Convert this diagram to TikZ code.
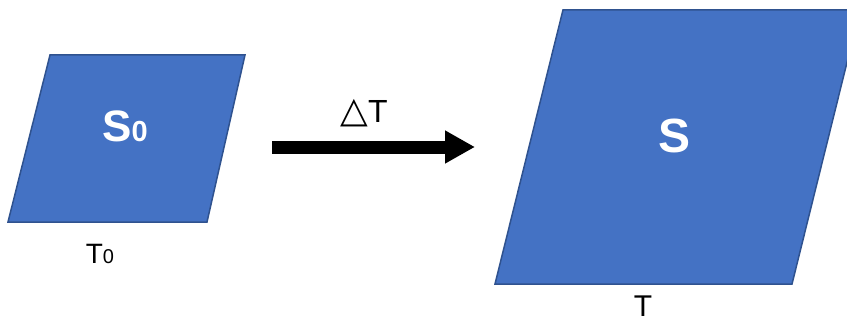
\documentclass[tikz,border=0pt]{standalone}
\usepackage{fontspec}
\setmainfont{Liberation Sans}
\newfontfamily\symfont{DejaVu Sans}
\usetikzlibrary{positioning, calc, arrows.meta}
\definecolor{slabblue}{HTML}{4472C4}
\definecolor{slabedge}{HTML}{2F528F}
\tikzset{% slabs, labels and the heating arrow
	slab/.style={fill=slabblue, draw=slabedge, line width=1.5pt, line join=miter},
	slablabel/.style={text=white, anchor=base, inner sep=0pt},
	templabel/.style={black, anchor=base, inner sep=0pt},
	heatarrow/.style={-{Triangle[length=30pt, width=31pt]}, line width=13pt, black},
}

\begin{document}
\begin{tikzpicture}[x=1pt, y=-1pt]
	\clip (0,0) rectangle (847,321);

	% the two slabs, before and after heating
	\draw[slab] (50,55) -- (245,55) -- (207,222) -- (8,222) -- cycle;
	\draw[slab] (563,10) -- (860,10) -- (792,284) -- (495,284) -- cycle;

	\node[slablabel] (s0-name) at (125,142)
		{\bfseries\fontsize{44}{44}\selectfont S\fontsize{29}{29}\selectfont 0};
	\node[slablabel] (s-name) at (675,152)
		{\fontsize{48}{48}\selectfont\bfseries S};

	\node[templabel] (t0) at (100,263)
		{\fontsize{28}{28}\selectfont T\fontsize{20}{20}\selectfont 0};
	\node[templabel] (t) at (643,316)
		{\fontsize{30}{30}\selectfont T};

	% heating step
	\coordinate (heat-start) at (272,147);
	\coordinate (heat-end) at (475,147);
	\draw[heatarrow] (heat-start) -- (heat-end);
	\node[templabel] (dt) at (364,123)
		{{\symfont\fontsize{36}{36}\selectfont △}\fontsize{32}{32}\selectfont T};
\end{tikzpicture}
\end{document}
